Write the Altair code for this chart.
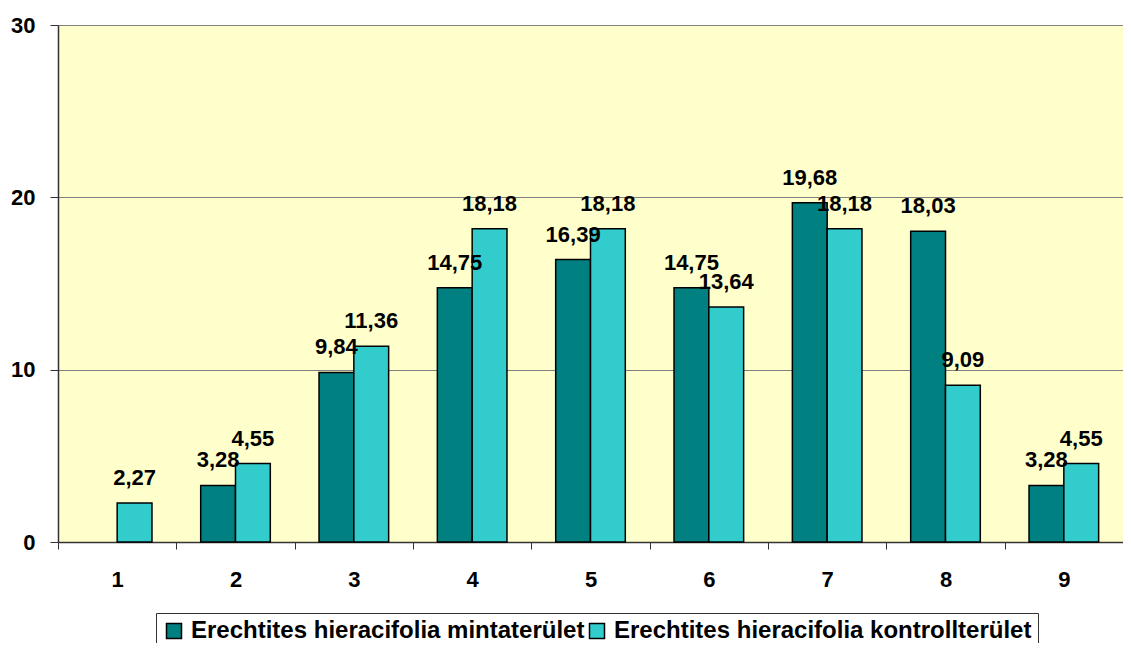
import altair as alt
import pandas as pd

categories = ["1", "2", "3", "4", "5", "6", "7", "8", "9"]
series_names = ["Erechtites hieracifolia mintaterület", "Erechtites hieracifolia kontrollterület"]
minta = [None, 3.28, 9.84, 14.75, 16.39, 14.75, 19.68, 18.03, 3.28]
kontroll = [2.27, 4.55, 11.36, 18.18, 18.18, 13.64, 18.18, 9.09, 4.55]
colors = ["#008080", "#33CCCC"]

rows = []
for i, c in enumerate(categories):
    for s, vals in zip(series_names, [minta, kontroll]):
        v = vals[i]
        if v is None:
            continue
        rows.append({"cat": c, "series": s, "value": v,
                     "label": f"{v:.2f}".replace(".", ",")})
df = pd.DataFrame(rows)

FONT = "Liberation Sans"
FS = 22

x = alt.X("cat:N", sort=categories, title=None,
          scale=alt.Scale(paddingInner=0, paddingOuter=0),
          axis=alt.Axis(labelAngle=0, labelFont=FONT, labelFontSize=FS, labelFontWeight="bold",
                        labelColor="black", labelPadding=20, tickBand="extent", tickSize=7,
                        tickColor="#333333", domainColor="#333333", domainWidth=1.5, grid=False))
xo = alt.XOffset("series:N", sort=series_names,
                 scale=alt.Scale(paddingInner=0, paddingOuter=0.70))
y = alt.Y("value:Q", title=None,
          scale=alt.Scale(domain=[0, 30], nice=False),
          axis=alt.Axis(values=[0, 10, 20, 30], labelFont=FONT, labelFontSize=FS,
                        labelFontWeight="bold", labelColor="black", labelPadding=15,
                        tickSize=8, tickColor="#333333", domainColor="#333333", domainWidth=1.5,
                        gridColor="#808080", gridWidth=1))

bars = alt.Chart(df).mark_bar(stroke="black", strokeWidth=1.5).encode(
    x=x, xOffset=xo, y=y,
    color=alt.Color("series:N", sort=series_names,
                    scale=alt.Scale(domain=series_names, range=colors),
                    legend=alt.Legend(title=None, orient="none", direction="horizontal",
                                      legendX=98, legendY=588,
                                      labelFont=FONT, labelFontSize=24, labelFontWeight="bold",
                                      labelColor="black", symbolType="square", symbolSize=225,
                                      symbolStrokeColor="black", symbolStrokeWidth=1.5,
                                      columnPadding=0, labelOffset=5,
                                      strokeColor="#333333", fillColor="white", padding=6,
                                      labelLimit=700)),
)

text = alt.Chart(df).mark_text(font=FONT, fontSize=FS, fontWeight="bold", color="black",
                               baseline="alphabetic", dy=-18).encode(
    x=alt.X("cat:N", sort=categories), xOffset=alt.XOffset("series:N", sort=series_names),
    y=alt.Y("value:Q"), text="label:N")

chart = alt.layer(bars, text).properties(
    width=1065, height=517,
    background="white",
    autosize=alt.AutoSizeParams(type="none"),
    padding={"left": 50, "top": 17, "right": 0, "bottom": 101},
).configure_view(fill="#FFFFCC", stroke=None)

chart.save("out.html", embed_options={"renderer": "svg", "actions": False})
